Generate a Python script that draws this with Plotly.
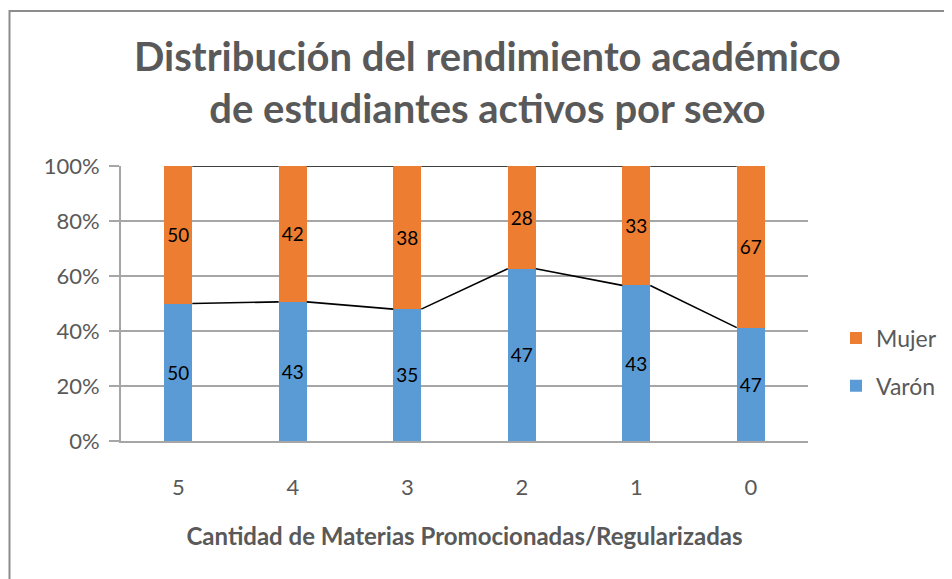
import plotly.graph_objects as go

categories = ["5", "4", "3", "2", "1", "0"]
varon = [50, 43, 35, 47, 43, 47]
mujer = [50, 42, 38, 28, 33, 67]
y_ticks = [0, 20, 40, 60, 80, 100]
y_tick_labels = ["0%", "20%", "40%", "60%", "80%", "100%"]
title_text = "<b>Distribución del rendimiento académico<br>de estudiantes activos por sexo</b>"
x_title = "<b>Cantidad de Materias Promocionadas/Regularizadas</b>"

# page body has an 8px margin; size the figure so it fills the 952x579 window
OFF = 8
W, H = 952 - OFF, 579 - OFF
# plot area in screen pixels: x 121..808, y 166..441
SL, SR, ST, SB = 121, 808, 166, 441
L, T = SL - OFF, ST - OFF
R, B = W - (SR - OFF), H - (SB - OFF)
pw, ph = W - L - R, H - T - B

def px_x(sx):
    return (sx - OFF - L) / pw

def px_y(sy):
    return (H - B - (sy - OFF)) / ph

totals = [v + m for v, m in zip(varon, mujer)]
p_v = [100 * v / t for v, t in zip(varon, totals)]
p_m = [100 * m / t for m, t in zip(mujer, totals)]
xs = list(range(len(categories)))
bw = 0.245
hw = bw / 2

font = "Lato, 'Open Sans', sans-serif"
grey = "#595959"

fig = go.Figure()
fig.add_bar(x=xs, y=p_v, name="Varón", width=bw, marker=dict(color="#5B9BD5", line=dict(width=0)),
            text=[str(v) for v in varon], textposition="inside", insidetextanchor="middle",
            textfont=dict(color="black", size=22, family=font), legendgroup="v", legendrank=2,
            hoverinfo="skip")
fig.add_bar(x=xs, y=p_m, name="Mujer", width=bw, marker=dict(color="#ED7D31", line=dict(width=0)),
            text=[str(m) for m in mujer], textposition="inside", insidetextanchor="middle",
            textfont=dict(color="black", size=22, family=font), legendgroup="m", legendrank=1,
            hoverinfo="skip")

# series lines
sx, sy, tx, ty = [], [], [], []
for i in range(len(xs) - 1):
    sx += [xs[i] + hw, xs[i + 1] - hw, None]
    sy += [p_v[i], p_v[i + 1], None]
    tx += [xs[i] + hw, xs[i + 1] - hw, None]
    ty += [p_v[i] + p_m[i], p_v[i + 1] + p_m[i + 1], None]
fig.add_scatter(x=sx, y=sy, mode="lines", line=dict(color="black", width=1.6), showlegend=False, hoverinfo="skip")
fig.add_scatter(x=tx, y=ty, mode="lines", line=dict(color="black", width=1.6), showlegend=False,
                hoverinfo="skip", cliponaxis=False)

fig.update_layout(
    width=W, height=H,
    margin=dict(l=L, r=R, t=T, b=B, autoexpand=False),
    barmode="stack",
    paper_bgcolor="white", plot_bgcolor="white",
    font=dict(family=font, color=grey, size=22),
    legend=dict(x=px_x(836), xanchor="left", y=px_y(362), yanchor="middle",
                traceorder="grouped", tracegroupgap=15,
                font=dict(size=23, color=grey, family=font), bgcolor="rgba(0,0,0,0)"),
    showlegend=True,
    xaxis=dict(range=[-0.5, len(xs) - 0.5], tickvals=xs, ticktext=categories,
               showgrid=False, zeroline=False, showline=True, linecolor="#a6a6a6", linewidth=2,
               ticks="", ticklabelstandoff=26, tickfont=dict(size=22, color=grey),
               title=dict(text=x_title, font=dict(size=24, color=grey), standoff=29)),
    yaxis=dict(range=[0, 100], tickmode="array", tickvals=y_ticks, ticktext=y_tick_labels,
               showgrid=True, gridcolor="#a6a6a6", gridwidth=2, zeroline=False,
               showline=True, linecolor="#a6a6a6", linewidth=2,
               ticks="outside", ticklen=10, tickcolor="#a6a6a6", tickwidth=2,
               ticklabelstandoff=5, tickfont=dict(size=22, color=grey)),
)

fig.add_annotation(text=title_text, xref="paper", yref="paper",
                   x=px_x(487), y=px_y(30), xanchor="center", yanchor="top",
                   showarrow=False, font=dict(size=40, color=grey, family=font))

fig.add_shape(type="rect", xref="paper", yref="paper",
              x0=px_x(9.5), x1=px_x(952 + 20), y0=px_y(579 + 20), y1=px_y(11),
              line=dict(color="#8c8c8c", width=2), fillcolor="rgba(0,0,0,0)", layer="below")

fig.write_html("out.html")
